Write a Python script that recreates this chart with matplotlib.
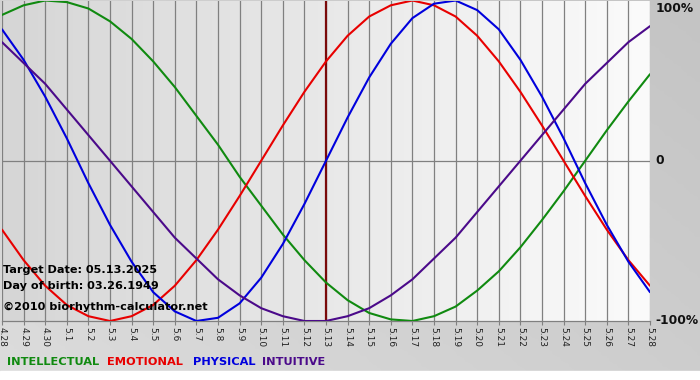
import numpy as np
import matplotlib
matplotlib.use("Agg")
import matplotlib.pyplot as plt
from matplotlib.colors import LinearSegmentedColormap

# ---- data ----
days = list(range(-15, 16))  # offset from target date
date_labels = ['4.28', '4.29', '4.30', '5.1', '5.2', '5.3', '5.4', '5.5', '5.6', '5.7',
               '5.8', '5.9', '5.10', '5.11', '5.12', '5.13', '5.14', '5.15', '5.16', '5.17',
               '5.18', '5.19', '5.20', '5.21', '5.22', '5.23', '5.24', '5.25', '5.26', '5.27', '5.28']
physical = [0.82, 0.63, 0.40, 0.14, -0.14, -0.40, -0.63, -0.82, -0.94, -1.00, -0.98,
            -0.89, -0.73, -0.52, -0.27, 0.00, 0.27, 0.52, 0.73, 0.89, 0.98, 1.00,
            0.94, 0.82, 0.63, 0.40, 0.14, -0.14, -0.40, -0.63, -0.82]
emotional = [-0.43, -0.62, -0.78, -0.90, -0.97, -1.00, -0.97, -0.90, -0.78, -0.62, -0.43,
             -0.22, 0.00, 0.22, 0.43, 0.62, 0.78, 0.90, 0.97, 1.00, 0.97, 0.90,
             0.78, 0.62, 0.43, 0.22, 0.00, -0.22, -0.43, -0.62, -0.78]
intellectual = [0.91, 0.97, 1.00, 0.99, 0.95, 0.87, 0.76, 0.62, 0.46, 0.28, 0.10,
                -0.10, -0.28, -0.46, -0.62, -0.76, -0.87, -0.95, -0.99, -1.00, -0.97, -0.91,
                -0.81, -0.69, -0.54, -0.37, -0.19, 0.00, 0.19, 0.37, 0.54]
intuitive = [0.74, 0.61, 0.48, 0.32, 0.16, 0.00, -0.16, -0.32, -0.48, -0.61, -0.74,
             -0.84, -0.92, -0.97, -1.00, -1.00, -0.97, -0.92, -0.84, -0.74, -0.61, -0.48,
             -0.32, -0.16, 0.00, 0.16, 0.32, 0.48, 0.61, 0.74, 0.84]
series_names = ['INTELLECTUAL', 'EMOTIONAL', 'PHYSICAL', 'INTUITIVE']
series_colors = ['#108a10', '#e80000', '#0000dd', '#4b0a8a']
target_offset = 0
y_labels = ['100%', '0', '-100%']
target_text = 'Target Date: 05.13.2025'
birth_text = 'Day of birth: 03.26.1949'
copy_text = '\u00a92010 biorhythm-calculator.net'

W, H = 700, 380
fig = plt.figure(figsize=(W / 100, H / 100), dpi=100)

# figure background gradient
bg = fig.add_axes([0, 0, 1, 1], zorder=-10)
bg.set_axis_off()
gx = np.linspace(0, 1, 256)
gy = np.linspace(0, 1, 64)
GX, GY = np.meshgrid(gx, gy)
grad = 0.6 * GX + 0.4 * GY
cmap_bg = LinearSegmentedColormap.from_list('bg', ['#dcdcdc', '#c4c4c4'])
bg.imshow(grad, cmap=cmap_bg, aspect='auto', extent=[0, 1, 0, 1], origin='lower')
bg.axhspan(0, 9 / H, color='white')
bg.set_xlim(0, 1)
bg.set_ylim(0, 1)

# main axes
left_px, right_px, top_px, bottom_px = 2, 650, 0.5, 321
ax = fig.add_axes([left_px / W, 1 - bottom_px / H, (right_px - left_px) / W, (bottom_px - top_px) / H])
ax.set_xlim(days[0], days[-1])
ax.set_ylim(-1.0, 1.0)
cmap_ax = LinearSegmentedColormap.from_list('ax', ['#d6d6d6', '#fbfbfb'])
ax.imshow(np.linspace(0, 1, 256)[None, :], cmap=cmap_ax, aspect='auto',
          extent=[days[0], days[-1], -1.0, 1.0], zorder=0)

for d in days:
    ax.axvline(d, color='#808080', lw=0.9, zorder=1)
ax.axhline(0, color='#808080', lw=0.9, zorder=1)
ax.axvline(target_offset, color='#7a0a0a', lw=1.6, zorder=2)

for vals, col in zip([intellectual, emotional, physical, intuitive], series_colors):
    ax.plot(days, vals, color=col, lw=1.5, zorder=3, solid_capstyle='round')

for s in ['top', 'left', 'right']:
    ax.spines[s].set_visible(False)
ax.spines['bottom'].set_color('#808080')
ax.spines['bottom'].set_linewidth(0.9)
ax.set_yticks([])
ax.set_xticks(days)
ax.set_xticklabels(date_labels, rotation=-90, fontsize=6.5, color='#222222')
ax.tick_params(axis='x', length=3, width=0.8, color='#808080', pad=1.5)

# right-hand value labels
for lab, yv, va in zip(y_labels, [0.99, 0.0, -1.0], ['top', 'center', 'center']):
    ax.text(1.008, yv, lab, transform=ax.get_yaxis_transform(),
            ha='left', va=va, fontsize=8.8, fontweight='bold', color='#111111')

# info texts
fig.text(3 / W, 1 - 270 / H, target_text, fontsize=8.1, fontweight='bold', va='center', ha='left')
fig.text(3 / W, 1 - 286 / H, birth_text, fontsize=8.1, fontweight='bold', va='center', ha='left')
fig.text(3 / W, 1 - 307 / H, copy_text, fontsize=8.1, fontweight='bold', va='center', ha='left')

# legend texts
leg_x = [7, 107, 193, 262]
for name, col, x in zip(series_names, series_colors, leg_x):
    fig.text(x / W, 1 - 362 / H, name, fontsize=8.2, fontweight='bold', color=col,
             va='center', ha='left')

fig.savefig('out.png', dpi=100)
